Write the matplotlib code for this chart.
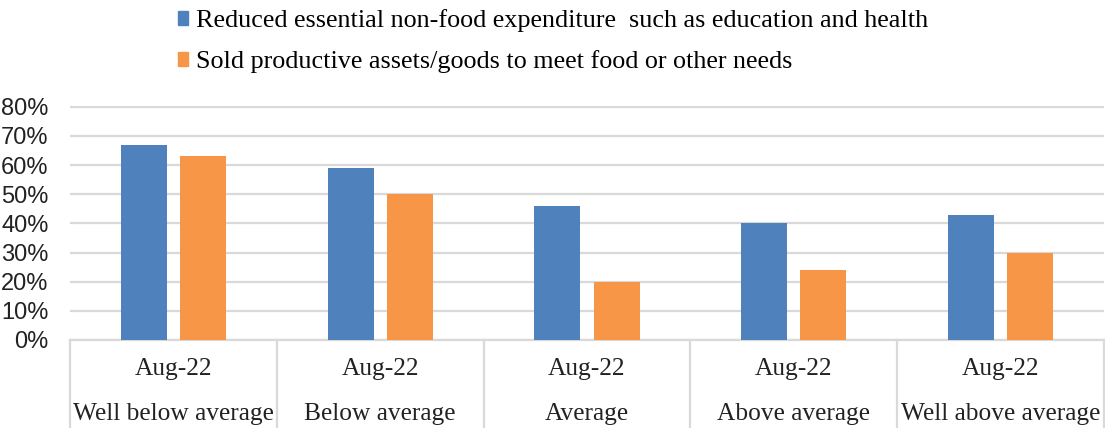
import matplotlib
matplotlib.use("Agg")
import matplotlib.pyplot as plt
import numpy as np
from matplotlib.patches import Patch
from matplotlib.ticker import PercentFormatter

BLUE = "#4F81BD"
ORANGE = "#F79646"
GRID = "#D9D9D9"

periods = ["Aug-22"] * 5
groups = ["Well below average", "Below average", "Average",
          "Above average", "Well above average"]
series = [
    "Reduced essential non-food expenditure  such as education and health",
    "Sold productive assets/goods to meet food or other needs",
]
reduced_spending = [0.67, 0.59, 0.46, 0.40, 0.43]
sold_assets = [0.63, 0.50, 0.20, 0.24, 0.30]
yticks = [0.0, 0.1, 0.2, 0.3, 0.4, 0.5, 0.6, 0.7, 0.8]

W, H = 1105, 428
fig = plt.figure(figsize=(W / 100, H / 100), dpi=100)
ax = fig.add_axes([70 / W, (H - 340) / H, (1104 - 70) / W, 233.5 / H])

x = np.arange(len(groups))
offset, width = 0.143, 0.222
ax.bar(x - offset, reduced_spending, width, color=BLUE, zorder=3)
ax.bar(x + offset, sold_assets, width, color=ORANGE, zorder=3)

ax.set_xlim(-0.5, len(groups) - 0.5)
ax.set_ylim(0, 0.801)
ax.set_yticks(yticks)
ax.yaxis.set_major_formatter(PercentFormatter(1.0, decimals=0))
ax.tick_params(axis="y", length=0, pad=15.5, labelsize=17)
for lab in ax.get_yticklabels():
    lab.set_fontfamily("Liberation Sans")
    lab.set_color("#222222")
ax.set_xticks([])
ax.grid(axis="y", color=GRID, linewidth=1.6, zorder=0)
for side in ("top", "right", "left"):
    ax.spines[side].set_visible(False)
ax.spines["bottom"].set_color(GRID)
ax.spines["bottom"].set_linewidth(1.6)

# two-level category axis: separators run down through the label block
trans = ax.get_xaxis_transform()
drop = -(H - 340) / 233.5
for b in np.arange(-0.5, len(groups), 1.0):
    ax.plot([b, b], [0, drop], transform=trans, color=GRID,
            linewidth=1.6, clip_on=False)
for i, (p, g) in enumerate(zip(periods, groups)):
    ax.text(i, -29 / 233.5, p, transform=trans, ha="center", va="center",
            family="Liberation Serif", fontsize=18.3, color="#222222")
    ax.text(i, -74 / 233.5, g, transform=trans, ha="center", va="center",
            family="Liberation Serif", fontsize=18.3, color="#222222")

handles = [Patch(color=BLUE), Patch(color=ORANGE)]
fig.legend(handles, series, loc="upper left", bbox_to_anchor=(154 / W, 1.033),
           frameon=False, handlelength=0.42, handleheight=0.42,
           handletextpad=0.3, labelspacing=0.68,
           prop={"family": "Liberation Serif", "size": 18.8})

fig.savefig("out.png", dpi=100)
